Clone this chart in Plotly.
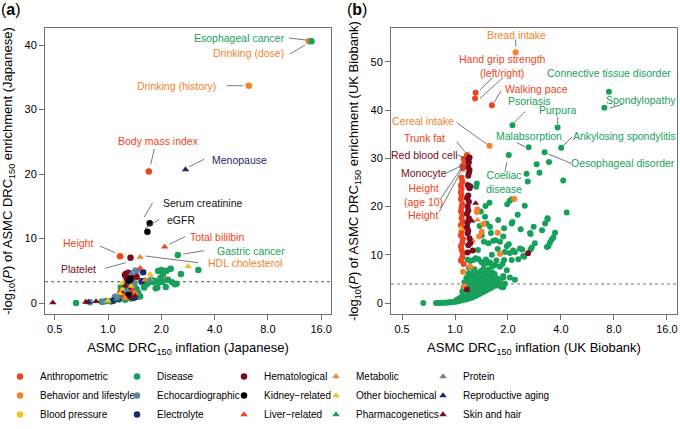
import numpy as np
import plotly.graph_objects as go

W, H = 680, 429
FONT = "Liberation Sans, Arial, sans-serif"

categories = ["Anthropometric", "Behavior and lifestyle", "Blood pressure",
              "Disease", "Echocardiographic", "Electrolyte",
              "Hematological", "Kidney\u2212related", "Liver\u2212related",
              "Metabolic", "Other biochemical", "Pharmacogenetics",
              "Protein", "Reproductive aging", "Skin and hair"]
colors = ["#ee4420", "#f5822a", "#f3c51a",
          "#17a05a", "#5b86a3", "#1a2a6a",
          "#7a0c1e", "#000000", "#ee4420",
          "#f5822a", "#f3c51a", "#17a05a",
          "#5b86a3", "#1a2a6a", "#7a0c1e"]
symbols = ["circle"] * 8 + ["triangle-up"] * 7

# ---- panel (a): Japanese, (inflation, -log10 P) ----
a_anthropometric = [(1.70, 20.4), (1.17, 7.24), (1.21, 2.0), (1.33, 1.0), (1.40, 2.6)]
a_behavior = [(13.6, 40.6), (6.24, 33.7), (1.36, 2.9), (1.39, 2.5), (1.41, 3.2),
              (2.05, 4.1), (1.19, 0.8), (1.30, 1.3), (1.26, 2.0)]
a_blood_pressure = [(1.24, 2.4), (1.33, 1.6)]
a_disease = [(14.1, 40.6), (2.48, 7.45), (3.24, 5.1), (0.66, 0.0), (0.92, 0.2), (0.98, 0.3),
             (1.04, 0.25), (1.13, 1.0), (1.18, 2.5), (1.25, 0.5), (1.52, 1.0), (1.45, 2.2),
             (1.55, 3.2), (1.62, 3.4), (1.66, 2.9), (1.70, 3.3), (1.75, 3.6), (1.80, 3.3),
             (1.84, 3.4), (1.86, 2.3), (1.90, 2.4), (1.92, 4.96), (1.94, 3.2), (2.0, 5.1),
             (2.03, 3.3), (2.05, 4.6), (2.14, 5.0), (2.18, 3.6), (2.26, 5.3), (2.30, 3.2),
             (2.39, 2.9), (2.44, 3.0), (2.58, 4.5), (2.12, 2.5), (1.98, 3.9), (1.60, 2.4),
             (1.35, 0.7), (1.48, 1.6)]
a_echocardiographic = [(0.79, 0.1), (0.94, 0.2), (1.05, 0.3), (1.095, 0.98), (1.21, 1.75),
                       (1.45, 5.0), (1.41, 3.0), (1.28, 2.8)]
a_electrolyte = [(1.07, 0.35), (1.15, 0.57), (1.275, 2.27), (1.58, 4.76), (1.55, 3.41),
                 (1.30, 3.41), (1.40, 0.8), (1.33, 1.4)]
a_hematological = [(1.34, 7.0), (1.247, 4.34), (1.275, 3.83), (1.35, 4.2), (1.30, 4.7),
                   (1.45, 4.08), (1.18, 1.66), (1.36, 0.9), (1.33, 2.2), (1.26, 4.5)]
a_kidney = [(1.72, 12.35), (1.67, 11.05), (1.32, 3.46), (1.34, 3.7), (1.29, 1.2)]
a_liver = [(2.09, 8.7), (1.52, 5.38), (1.38, 2.0), (1.23, 1.1)]
a_metabolic = [(1.52, 7.1), (1.43, 1.5), (1.62, 3.6), (1.25, 0.7)]
a_other_biochemical = [(2.84, 5.69), (1.0, 0.35), (1.17, 1.5), (1.21, 2.17), (1.73, 4.45),
                       (1.73, 3.72), (1.20, 3.05), (1.35, 2.6)]
a_pharmacogenetics = [(1.12, 0.6), (1.78, 3.1)]
a_protein = [(1.41, 5.12), (1.36, 4.6), (1.72, 3.6), (1.28, 2.0), (1.14, 0.9)]
a_reproductive = [(2.74, 20.7), (0.775, 0.15), (1.42, 0.7)]
a_skin_hair = [(0.488, 0.05), (0.749, 0.15), (0.856, 0.25), (1.42, 1.1), (1.25, 2.7)]

# ---- panel (b): UK Biobank ----
b_anthropometric = [(1.31, 43.6), (1.30, 42.4), (1.62, 41.0), (1.17, 30.7), (1.15, 29.3),
                    (1.13, 28.9), (1.12, 29.9), (1.10, 28.4), (1.11, 27.9), (1.09, 26.0),
                    (1.10, 25.2), (1.08, 24.4), (1.09, 23.7), (1.08, 23.0), (1.09, 22.4),
                    (1.08, 21.6), (1.10, 20.6), (1.09, 19.9), (1.08, 19.1), (1.10, 18.4),
                    (1.09, 17.6), (1.11, 16.9), (1.08, 16.2), (1.10, 15.4), (1.09, 14.7),
                    (1.08, 14.0), (1.11, 13.3), (1.10, 12.5), (1.08, 11.8), (1.09, 11.0),
                    (1.11, 10.3), (1.10, 9.5), (1.08, 8.8), (1.12, 8.1)]
b_behavior = [(2.21, 52.0), (1.57, 32.6), (2.17, 21.6), (1.34, 19.4), (1.33, 18.9),
              (1.42, 14.8), (1.37, 13.8), (1.75, 14.6), (1.45, 16.4), (1.11, 6.5),
              (1.13, 3.5), (1.25, 12.8), (1.80, 10.2), (1.22, 7.5)]
b_disease = [(0.66, 0.0), (0.78, 0.0), (0.80, 0.0), (0.82, 0.02), (0.84, 0.03), (0.86, 0.05),
             (0.88, 0.07), (0.90, 0.1), (0.92, 0.12), (0.94, 0.15), (0.96, 0.18), (0.98, 0.22),
             (1.00, 0.27), (1.02, 0.32), (1.04, 0.38), (1.06, 0.45), (1.08, 0.52), (1.10, 0.6),
             (1.13, 0.7), (1.16, 0.8), (1.20, 0.95), (1.24, 1.1), (1.28, 1.3), (1.32, 1.5),
             (1.36, 1.75), (1.40, 2.0), (1.45, 2.3), (1.50, 2.6), (1.56, 2.9), (1.62, 3.2),
             (1.70, 3.6), (1.02, 0.6), (1.05, 0.9), (1.08, 1.2), (1.11, 1.5), (1.14, 1.1),
             (1.18, 1.6), (1.22, 2.0), (1.26, 2.4), (1.30, 2.0), (1.34, 2.7), (1.38, 3.1),
             (1.42, 2.6), (1.46, 3.4), (1.52, 3.8), (1.58, 3.6), (1.10, 2.4), (1.12, 3.2),
             (1.13, 4.3), (1.15, 2.8), (1.16, 5.2), (1.17, 3.8), (1.19, 6.1), (1.20, 4.6),
             (1.21, 3.2), (1.23, 5.6), (1.24, 2.6), (1.25, 4.0), (1.27, 6.6), (1.28, 3.5),
             (1.29, 4.9), (1.31, 5.8), (1.32, 3.2), (1.33, 4.4), (1.35, 6.2), (1.36, 3.7),
             (1.37, 5.1), (1.39, 2.4), (1.40, 4.3), (1.41, 6.7), (1.43, 3.5), (1.44, 5.5),
             (1.46, 4.6), (1.48, 6.1), (1.50, 3.3), (1.51, 5.0), (1.53, 4.0), (1.55, 5.7),
             (1.57, 3.2), (1.58, 4.5), (1.61, 5.3), (1.63, 4.1), (1.66, 4.7), (1.68, 6.0),
             (1.71, 4.3), (1.74, 5.1), (1.77, 3.9), (1.80, 4.6), (1.84, 3.3), (1.88, 5.3),
             (1.92, 4.0), (1.18, 9.0), (1.22, 8.7), (1.27, 8.9), (1.31, 9.3), (1.36, 9.1),
             (1.41, 8.5), (1.46, 8.0), (1.50, 9.0), (1.54, 8.3), (1.58, 8.4), (1.63, 7.6),
             (1.69, 7.9), (1.72, 8.8), (1.80, 7.5), (1.86, 8.1), (1.90, 8.9), (1.97, 6.8),
             (2.05, 5.3), (2.19, 4.8), (1.88, 5.6), (1.82, 3.4), (1.88, 3.25), (2.10, 8.9),
             (2.29, 9.06), (2.44, 9.75), (2.05, 10.4), (1.92, 10.6), (2.19, 10.6), (2.34, 11.3),
             (2.02, 12.2), (1.46, 12.7), (1.55, 12.4), (1.65, 12.9), (1.80, 12.7), (1.88, 13.8),
             (1.58, 15.8), (1.51, 16.5), (1.48, 17.9), (1.76, 17.2), (2.10, 16.5), (2.67, 14.5),
             (2.73, 11.5), (2.84, 12.4), (2.41, 11.1), (2.14, 10.9), (1.97, 11.8), (2.69, 11.1),
             (2.47, 9.6), (3.25, 16.5), (3.70, 14.6), (3.35, 17.6), (3.62, 13.6), (3.54, 13.1),
             (3.46, 12.5), (3.39, 11.8), (3.33, 11.6), (3.12, 15.1), (2.80, 15.8), (2.36, 15.3),
             (2.12, 16.8), (1.90, 15.5), (2.69, 14.3), (2.27, 18.3), (3.36, 17.4), (2.49, 20.2),
             (1.98, 20.5), (2.05, 21.2), (2.10, 21.5), (1.57, 20.8), (1.49, 20.1), (4.31, 18.8),
             (4.12, 25.4), (2.59, 25.2), (2.55, 26.8), (3.02, 27.0), (2.91, 28.8), (3.42, 29.25),
             (1.33, 24.8), (1.32, 24.1), (1.40, 19.0), (1.38, 16.0), (1.42, 14.0), (1.60, 14.5),
             (1.70, 13.0), (1.75, 11.2), (1.62, 10.0), (1.35, 11.0), (1.29, 7.0), (1.45, 7.0),
             (1.55, 6.9), (1.62, 6.4), (1.20, 7.3),
             (2.12, 36.9), (3.83, 36.4), (2.62, 32.3), (4.01, 32.2), (3.23, 31.3), (2.02, 30.7),
             (7.49, 43.8), (7.06, 40.5)]
b_hematological = [(1.19, 29.8), (1.21, 30.2), (1.20, 29.2), (1.19, 28.2), (1.21, 27.6),
                   (1.20, 27.0), (1.19, 26.4), (1.18, 24.5), (1.20, 24.1), (1.22, 24.2),
                   (1.21, 23.8), (1.19, 22.3), (1.17, 21.8), (1.20, 21.0), (1.18, 20.0),
                   (1.19, 19.2), (1.17, 18.5), (1.20, 17.6), (1.18, 16.7), (1.17, 15.8),
                   (1.19, 15.0), (1.18, 14.4), (1.21, 13.4), (1.22, 12.4), (1.19, 12.0),
                   (1.26, 10.9), (1.18, 10.5), (2.60, 10.3), (1.17, 2.8)]
b_metabolic = [(1.34, 17.2)]
b_other_biochemical = [(1.08, 15.4)]
b_skin_hair = [(1.31, 20.7), (1.25, 17.0)]

panel_a = [a_anthropometric, a_behavior, a_blood_pressure, a_disease, a_echocardiographic,
           a_electrolyte, a_hematological, a_kidney, a_liver, a_metabolic,
           a_other_biochemical, a_pharmacogenetics, a_protein, a_reproductive, a_skin_hair]
panel_b = {"Anthropometric": b_anthropometric, "Behavior and lifestyle": b_behavior,
           "Disease": b_disease, "Hematological": b_hematological, "Metabolic": b_metabolic,
           "Other biochemical": b_other_biochemical, "Skin and hair": b_skin_hair}

thresh_a = 3.3
thresh_b = 3.95


def paper(px, py):
    return px / W, 1 - py / H


fig = go.Figure()

# disease cloud of panel b goes underneath
pts = b_disease
fig.add_trace(go.Scatter(x=[p[0] for p in pts], y=[p[1] for p in pts], mode="markers",
                         xaxis="x2", yaxis="y2", showlegend=False, legendgroup="Disease",
                         marker=dict(size=6, color=colors[3], symbol="circle", line_width=0)))

legend_names = ["legend", "legend2", "legend3", "legend4", "legend5"]
for i, cat in enumerate(categories):
    pts = panel_a[i]
    fig.add_trace(go.Scatter(x=[p[0] for p in pts], y=[p[1] for p in pts], mode="markers",
                             name=cat, legendgroup=cat, legend=legend_names[i // 3],
                             marker=dict(size=6.5, color=colors[i], symbol=symbols[i], line_width=0)))
for i, cat in enumerate(categories):
    if cat not in panel_b or cat == "Disease":
        continue
    pts = panel_b[cat]
    fig.add_trace(go.Scatter(x=[p[0] for p in pts], y=[p[1] for p in pts], mode="markers",
                             xaxis="x2", yaxis="y2", showlegend=False, legendgroup=cat,
                             marker=dict(size=6, color=colors[i], symbol=symbols[i], line_width=0)))

RED, ORANGE, GREEN, NAVY, MAROON, BLACK = colors[0], colors[1], colors[3], colors[5], colors[6], "#111111"

# labels: text, color, px, py, xanchor
labels = [
    ("Esophageal cancer", GREEN, 286, 38, "right"),
    ("Drinking (dose)", ORANGE, 286, 52.5, "right"),
    ("Drinking (history)", ORANGE, 218, 86, "right"),
    ("Body mass index", RED, 158, 141, "center"),
    ("Menopause", NAVY, 210, 160, "left"),
    ("Serum creatinine", BLACK, 161, 203, "left"),
    ("eGFR", BLACK, 165, 220, "left"),
    ("Total bililbin", RED, 188, 237, "left"),
    ("Gastric cancer", GREEN, 215, 251, "left"),
    ("HDL cholesterol", ORANGE, 206, 263, "left"),
    ("Height", RED, 95, 243, "right"),
    ("Platelet", MAROON, 98, 269, "right"),
    ("Bread intake", ORANGE, 516, 35, "center"),
    ("Hand grip strength<br>(left/right)", RED, 502, 66, "center"),
    ("Walking pace", RED, 503, 89, "left"),
    ("Connective tissue disorder", GREEN, 609, 73, "center"),
    ("Psoriasis", GREEN, 506, 100.5, "left"),
    ("Spondylopathy", GREEN, 641, 100, "center"),
    ("Purpura", GREEN, 558, 110, "center"),
    ("Cereal intake", ORANGE, 423, 121, "center"),
    ("Trunk fat", RED, 424, 138, "center"),
    ("Red blood cell", MAROON, 424, 155, "center"),
    ("Monocyte", MAROON, 424, 173, "center"),
    ("Height<br>(age 10)", RED, 423, 195, "center"),
    ("Height", RED, 423, 215, "center"),
    ("Malabsorption", GREEN, 529, 136, "center"),
    ("Ankylosing spondylitis", GREEN, 624, 136, "center"),
    ("Oesophageal disorder", GREEN, 623, 163, "center"),
    ("Coeliac<br>disease", GREEN, 504, 182, "center"),
]
leaders = [
    (289, 38, 306, 40), (290, 54, 305, 45), (226.7, 85.7, 242.7, 85.7), (154.3, 149, 150.7, 164.3),
    (204, 159.3, 189.3, 166.7), (152.7, 202.7, 144, 217.3), (159.3, 219.3, 145, 228.3),
    (185, 236.7, 169.3, 244.3), (204, 250.7, 183.3, 254), (198.3, 262.7, 145.3, 256),
    (100, 246, 115, 252.7), (105, 268.3, 125.7, 262.7),
    (515.7, 39.3, 515.7, 46.7), (492.7, 77.3, 480, 90), (503.3, 77.3, 480, 98.3),
    (501, 90.7, 494, 102.7), (623.3, 104, 609.3, 108.3), (557.7, 116.7, 557.7, 124),
    (525, 111.7, 514, 122.7), (456.7, 122.7, 486.7, 144), (456.7, 141.7, 465, 151.7),
    (457.3, 155, 466, 158.3), (446.7, 172.7, 463.3, 165), (441, 198.3, 462.7, 166),
    (439.3, 211.7, 463.3, 166.7), (516.7, 142.7, 525, 146.7), (572.3, 136.7, 563.3, 145.7),
    (571, 163.3, 548.3, 154), (506.7, 162.3, 505, 171.7),
]

annotations = []
for text, col, px, py, xa in labels:
    x, y = paper(px, py)
    annotations.append(dict(text=text, x=x, y=y, xref="paper", yref="paper", xanchor=xa,
                            yanchor="middle", showarrow=False, align="center",
                            font=dict(family=FONT, size=10.5, color=col)))
for t, px in [("(<b>a</b>)", 11), ("(<b>b</b>)", 357)]:
    x, y = paper(px, 10)
    annotations.append(dict(text=t, x=x, y=y, xref="paper", yref="paper", xanchor="center",
                            yanchor="middle", showarrow=False,
                            font=dict(family=FONT, size=16, color="black")))

shapes = []
for x0, y0, x1, y1 in leaders:
    a0, b0 = paper(x0, y0)
    a1, b1 = paper(x1, y1)
    shapes.append(dict(type="line", xref="paper", yref="paper", x0=a0, y0=b0, x1=a1, y1=b1,
                       line=dict(color="#555555", width=0.8)))
# reference lines
shapes.append(dict(type="line", xref="x", yref="y domain", x0=0, x1=0, y0=0, y1=1,
                   line=dict(color="#444444", width=1.2), layer="below"))
shapes.append(dict(type="line", xref="x2", yref="y2 domain", x0=0, x1=0, y0=0, y1=1,
                   line=dict(color="#8a8a8a", width=2), layer="below"))
shapes.append(dict(type="line", xref="x domain", yref="y", x0=0, x1=1, y0=thresh_a, y1=thresh_a,
                   line=dict(color="#555555", width=1, dash="dot"), layer="below"))
shapes.append(dict(type="line", xref="x2 domain", yref="y2", x0=0, x1=1, y0=thresh_b, y1=thresh_b,
                   line=dict(color="#777777", width=1, dash="dot"), layer="below"))

xtickvals = [0.5, 1, 2, 4, 8, 16]
xticktext = ["0.5", "1.0", "2.0", "4.0", "8.0", "16.0"]
axis_common = dict(showline=True, mirror=True, linecolor="#707070", linewidth=1, ticks="outside",
                   ticklen=5, tickcolor="#707070", showgrid=False, zeroline=False,
                   tickfont=dict(family=FONT, size=11, color="black"))
xtitle_font = dict(family=FONT, size=13)
ytitle_font = dict(family=FONT, size=13)

fig.update_layout(
    width=W, height=H, autosize=False, margin=dict(l=0, r=0, t=0, b=0),
    paper_bgcolor="white", plot_bgcolor="white", font=dict(family=FONT, color="black"),
    xaxis=dict(type="log", domain=[45 / W, 331 / W], anchor="y",
               range=[np.log10(2 ** -1.182), np.log10(2 ** 4.184)],
               tickvals=xtickvals, ticktext=xticktext,
               title=dict(text="ASMC DRC<sub>150</sub> inflation (Japanese)",
                          font=xtitle_font, standoff=8), **axis_common),
    yaxis=dict(domain=[1 - 314 / H, 1 - 28 / H], anchor="x", range=[-1.705, 42.64],
               tickvals=[0, 10, 20, 30, 40],
               title=dict(text="-log<sub>10</sub>(<i>P</i>) of ASMC DRC<sub>150</sub> enrichment (Japanese)",
                          font=ytitle_font, standoff=8), **axis_common),
    xaxis2=dict(type="log", domain=[391 / W, 677 / W], anchor="y2",
                range=[np.log10(2 ** -1.208), np.log10(2 ** 4.19)],
                tickvals=xtickvals, ticktext=xticktext,
                title=dict(text="ASMC DRC<sub>150</sub> inflation (UK Biobank)",
                           font=xtitle_font, standoff=8), **axis_common),
    yaxis2=dict(domain=[1 - 314 / H, 1 - 28 / H], anchor="x2", range=[-2.28, 57.05],
                tickvals=[0, 10, 20, 30, 40, 50],
                title=dict(text="-log<sub>10</sub>(<i>P</i>) of ASMC DRC<sub>150</sub> enrichment (UK Biobank)",
                           font=ytitle_font, standoff=8), **axis_common),
    annotations=annotations, shapes=shapes,
)

# one legend per column, kept inside the figure; symbol ~20 px, text ~40 px right of x
legend_px = [0, 117, 224, 316, 423]
for name, lx in zip(legend_names, legend_px):
    fig.update_layout({name: dict(x=lx / W, y=0, xanchor="left", yanchor="bottom",
                                  orientation="v", bgcolor="rgba(0,0,0,0)", borderwidth=0,
                                  tracegroupgap=0, itemclick=False,
                                  font=dict(family=FONT, size=10, color="black"))})

fig.write_html("out.html", config={"displayModeBar": False},
               post_script="document.body.style.margin='0px';")
